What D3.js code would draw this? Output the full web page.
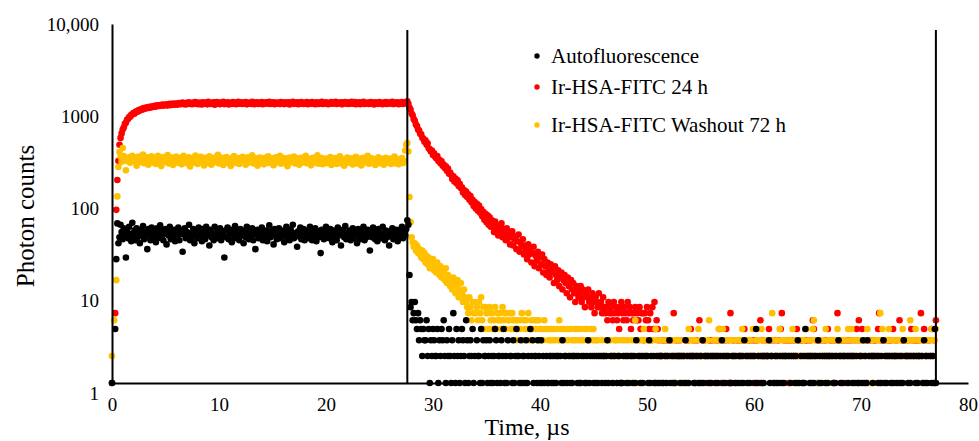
<!DOCTYPE html>
<html>
<head>
<meta charset="utf-8">
<script src="https://d3js.org/d3.v7.min.js"></script>
<style>
    body { margin: 0; background: #fff; }
    text { font-family: 'Liberation Serif', 'Times New Roman', serif; fill: #000; }
</style>
</head>
<body>
<div id="chart"></div>
<script>
// photon counts per time bin, bin width in µs
const binWidth = 0.1;

// bins 0..276 : excitation on (0 - 27.6 µs)
const redOn = [
    1, 0, 0, 6, 85, 183, 300, 452, 538, 604, 668, 702, 771, 795, 858, 872, 918, 925, 972, 981,
    1016, 1003, 1048, 1062, 1051, 1097, 1085, 1118, 1106, 1148, 1131, 1162, 1150, 1178, 1159, 1193, 1171, 1204, 1188, 1215,
    1197, 1232, 1211, 1246, 1220, 1238, 1259, 1226, 1265, 1241, 1252, 1277, 1233, 1262, 1289, 1248, 1271, 1296, 1258, 1283,
    1301, 1262, 1289, 1315, 1274, 1298, 1330, 1281, 1307, 1268, 1322, 1293, 1340, 1285, 1311, 1276, 1329, 1300, 1352, 1288,
    1318, 1279, 1336, 1303, 1267, 1345, 1310, 1292, 1331, 1272, 1358, 1305, 1284, 1327, 1296, 1341, 1263, 1314, 1348, 1290,
    1322, 1276, 1337, 1308, 1355, 1281, 1319, 1299, 1343, 1270, 1326, 1309, 1287, 1351, 1302, 1334, 1279, 1317, 1360, 1294,
    1311, 1339, 1283, 1325, 1306, 1347, 1272, 1318, 1296, 1335, 1289, 1356, 1301, 1277, 1329, 1314, 1342, 1286, 1320, 1298,
    1349, 1275, 1323, 1307, 1338, 1291, 1316, 1362, 1284, 1330, 1303, 1345, 1278, 1321, 1299, 1336, 1312, 1288, 1353, 1306,
    1327, 1281, 1344, 1315, 1293, 1339, 1270, 1324, 1308, 1357, 1289, 1318, 1301, 1341, 1276, 1332, 1295, 1350, 1310, 1284,
    1326, 1305, 1346, 1279, 1319, 1337, 1292, 1354, 1300, 1313, 1274, 1343, 1317, 1288, 1333, 1306, 1359, 1283, 1321, 1297,
    1340, 1311, 1278, 1328, 1302, 1348, 1290, 1323, 1314, 1356, 1282, 1335, 1299, 1318, 1344, 1273, 1329, 1308, 1351, 1294,
    1320, 1286, 1338, 1304, 1361, 1291, 1316, 1347, 1280, 1325, 1303, 1342, 1277, 1330, 1310, 1355, 1287, 1319, 1301, 1336,
    1284, 1327, 1349, 1296, 1313, 1270, 1340, 1307, 1322, 1289, 1353, 1300, 1318, 1275, 1334, 1312, 1346, 1285, 1324, 1305,
    1339, 1292, 1357, 1281, 1316, 1331, 1298, 1344, 1279, 1322, 1309, 1350, 1288, 1326, 1341, 1303, 1372
];
const orangeOn = [
    2, 0, 5, 0, 14, 120, 255, 375, 332, 291, 415, 338, 302, 235, 318, 296, 327, 284, 309, 341,
    312, 298, 325, 263, 306, 334, 289, 317, 301, 352, 281, 310, 295, 328, 270, 314, 303, 336, 287, 299,
    321, 276, 308, 340, 292, 315, 261, 304, 329, 288, 311, 297, 346, 279, 318, 300, 325, 268, 307, 293,
    333, 284, 312, 296, 322, 273, 305, 339, 290, 316, 281, 301, 327, 258, 309, 294, 320, 286, 343, 302,
    275, 314, 299, 331, 287, 308, 265, 323, 295, 310, 282, 336, 300, 271, 317, 293, 326, 289, 305, 348,
    279, 311, 296, 324, 268, 307, 291, 330, 285, 313, 298, 262, 319, 302, 337, 283, 309, 294, 321, 276,
    306, 289, 332, 298, 315, 270, 303, 327, 286, 311, 295, 344, 280, 308, 292, 319, 264, 301, 325, 288,
    314, 297, 273, 322, 305, 290, 335, 283, 309, 299, 318, 267, 304, 328, 287, 312, 294, 341, 278, 306,
    291, 320, 284, 310, 260, 303, 326, 289, 315, 296, 333, 279, 307, 292, 318, 271, 300, 324, 286, 312,
    295, 339, 281, 306, 290, 316, 266, 302, 323, 285, 309, 293, 345, 277, 311, 297, 320, 274, 304, 288,
    317, 282, 308, 294, 330, 269, 299, 313, 287, 321, 276, 305, 291, 336, 280, 310, 296, 263, 314, 300,
    325, 284, 307, 289, 318, 272, 303, 292, 331, 279, 309, 295, 316, 265, 301, 322, 286, 311, 297, 340,
    278, 306, 290, 319, 283, 302, 268, 313, 294, 327, 281, 304, 288, 315, 270, 299, 324, 285, 308, 291,
    317, 276, 302, 289, 334, 280, 296, 311, 273, 305, 287, 320, 282, 298, 390, 455, 472
];
const blackOn = [
    1, 0, 0, 4, 24, 60, 36, 42, 58, 48, 40, 53, 44, 25, 49, 41, 55, 46, 38, 61,
    44, 50, 39, 53, 42, 47, 36, 51, 44, 56, 40, 48, 43, 31, 52, 46, 39, 54, 42, 49,
    45, 37, 53, 41, 47, 57, 43, 50, 39, 46, 52, 35, 49, 44, 55, 40, 47, 42, 51, 38,
    48, 43, 54, 39, 46, 50, 29, 45, 53, 41, 48, 44, 58, 39, 47, 42, 52, 36, 50, 45,
    41, 54, 43, 49, 38, 52, 46, 40, 55, 44, 48, 34, 51, 42, 47, 39, 55, 45, 41, 50,
    43, 53, 39, 47, 44, 25, 50, 42, 54, 40, 46, 51, 37, 48, 43, 56, 41, 49, 45, 39,
    52, 44, 47, 36, 50, 42, 55, 46, 40, 48, 43, 53, 39, 49, 31, 45, 51, 41, 47, 44,
    54, 39, 48, 43, 50, 38, 46, 57, 42, 49, 44, 35, 52, 45, 40, 47, 53, 41, 48, 43,
    50, 37, 45, 55, 42, 48, 39, 51, 44, 58, 41, 47, 43, 33, 49, 45, 54, 40, 46, 52,
    39, 47, 44, 50, 41, 55, 45, 39, 48, 43, 53, 38, 49, 42, 46, 28, 51, 44, 40, 47,
    55, 42, 48, 41, 52, 45, 37, 50, 43, 47, 39, 54, 44, 49, 34, 46, 51, 42, 56, 40,
    47, 43, 50, 39, 45, 53, 41, 48, 44, 36, 52, 46, 40, 49, 43, 55, 39, 47, 42, 51,
    44, 30, 48, 42, 54, 45, 40, 49, 38, 52, 43, 47, 41, 55, 44, 39, 50, 42, 46, 34,
    49, 43, 53, 40, 47, 44, 51, 38, 45, 50, 42, 55, 41, 48, 44, 52, 65
];

// decay after the gate closes (from 27.7 µs)
const redDecay = [
    1290, 1176, 1112, 1008, 962, 871, 834, 761, 728, 669,
    651, 598, 589, 541, 527, 489, 506, 451, 468, 412,
    402, 379, 390, 348, 362, 331, 319, 337, 298, 306,
    281, 296, 263, 272, 248, 259, 232, 245, 214, 221,
    209, 188, 201, 176, 190, 168, 181, 157, 166, 149,
    152, 133, 141, 124, 136, 118, 127, 110, 121, 103,
    110, 94, 104, 88, 99, 83, 95, 79, 87, 72,
    81, 66, 77, 62, 74, 58, 70, 55, 65, 61,
    48, 63, 51, 57, 44, 55, 49, 60, 42, 52,
    45, 39, 53, 41, 47, 35, 44, 49, 34, 40,
    43, 31, 38, 45, 29, 36, 33, 40, 27, 34,
    30, 24, 35, 27, 31, 22, 28, 33, 20, 26,
    23, 29, 19, 25, 21, 27, 17, 24, 20, 16,
    22, 18, 15, 21, 17, 19, 13, 20, 16, 14,
    18, 12, 15, 17, 11, 14, 16, 13, 10, 15,
    12, 9, 14, 11, 13, 10, 8, 12, 11, 9,
    10, 12, 8, 11, 9, 7, 10, 9, 11, 8,
    9, 7, 10, 8, 6, 9, 8, 7, 10, 7,
    8, 6, 9, 7
];
const orangeDecay = [
    380, 118, 62, 42, 37, 33, 36, 30, 34, 28,
    31, 27, 25, 30, 24, 28, 22, 26, 21, 25,
    19, 23, 20, 24, 18, 21, 17, 22, 19, 16,
    20, 15, 18, 17, 14, 19, 13, 16, 15, 12,
    14, 11, 15, 13, 10, 12, 14, 9, 11, 13,
    10, 8, 11, 9
];
const blackDecay = [58, 16, 7, 8, 5, 6];

// low counts (one digit per bin, 0 = no photon, not drawn on log axis)
const redLow =
    "6758676586" + "7564786576" + "5867465675" + "6574663657" + "5463748454" +
    "3223132323" + "2332613232" + "3212232332" + "4232323152" + "2333212332" +
    "3232323413" + "2334231623" + "3213323232" + "4232332313" + "2332152322" +
    "3224323132" + "2332462323" + "3133232324" + "2323312332" + "3232542313" +
    "2332323242" + "3323132632" + "2332313232" + "3223243523" + "4232312332" +
    "2333246313" + "3232323324" + "2323152332" + "3232324323" + "3232362342" +
    "2333242315";
const orangeLow =
    "8769758686" + "7586957476" + "6475645746" + "5654756465" + "5646545354" +
    "4563545463" + "4543545354" + "3435424343" + "4343243534" + "3432434243" +
    "2343423432" + "3424332434" + "3233212322" + "2312332123" + "3223213232" +
    "2322132352" + "1332324323" + "2323312432" + "3231234213" + "2332323132" +
    "3212232343" + "2332312432" + "3223323512" + "2331324323" + "4232132323" +
    "2332312343" + "3213323242" + "2332314232" + "3233226312" + "2324232332" +
    "3231342323" + "2332313242" + "3223452313" + "2332324232" + "3231323423" +
    "2323232413" + "4232313233" + "2333242312" + "3213323624" + "2332342313" +
    "3233213242" + "2323352323" + "4232312332" + "2333243234";
const blackLow =
    "8546354243" + "3524132432" + "2413243521" + "3242136214" + "2312432153" +
    "1232412032" + "2141322312" + "3121243122" + "1324121302" + "2131242213" +
    "1221312042" + "3122132131" + "2102112212" + "1212202131" + "2210212122" +
    "0212112021" + "1231202121" + "2120212212" + "3102212201" + "2211120212" +
    "1022121302" + "2121202213" + "1202112121" + "2210212031" + "2121202212" +
    "0213121202" + "2112021213" + "1220212120" + "2121202312" + "1202111221" +
    "2012212130" + "2121202214" + "1202121202" + "2312201212" + "1021212202" +
    "2120212131" + "0212142021" + "2121202312" + "1202121220" + "2121203212" +
    "1220212021" + "2102112213" + "1213020212" + "2021212031" + "2120212122" +
    "1202121302" + "2121202212" + "1220213121" + "20212141";

// gate lines (µs) and axis ticks
const gateTimes = [27.6, 77];
const xTicks = [0, 10, 20, 30, 40, 50, 60, 70, 80];
const yTicks = [1, 10, 100, 1000, 10000];

const seriesNames = ['Autofluorescence', 'Ir-HSA-FITC 24 h', 'Ir-HSA-FITC Washout 72 h'];
const seriesColors = ['#000000', '#ff0000', '#ffc000'];

// turn the counts into {t, c} points
function toPoints(on, decay, low) {
    let counts = on.concat(decay, low.split('').map(Number));
    return counts.map((c, i) => ({ t: i * binWidth, c: c }))
        .filter(d => d.c > 0);
}

let series = [
    toPoints(blackOn, blackDecay, blackLow),
    toPoints(redOn, redDecay, redLow),
    toPoints(orangeOn, orangeDecay, orangeLow)
];

let dim = { width: 979, height: 441 };

let svg = d3.select('#chart')
    .append('svg')
    .attr('width', dim.width)
    .attr('height', dim.height);

let scaleX = d3.scaleLinear().domain([0, 80]).range([112, 968]);
let scaleY = d3.scaleLog().domain([1, 10000]).range([383, 24]);

// dots: red at the back, yellow over it, black on top
let drawOrder = [1, 2, 0];
drawOrder.forEach(k => {
    svg.append('g')
        .selectAll('circle')
        .data(series[k])
        .join('circle')
        .attr('cx', d => scaleX(d.t))
        .attr('cy', d => scaleY(d.c))
        .attr('r', 3.3)
        .attr('fill', seriesColors[k]);
});

// vertical gate lines
svg.append('g')
    .selectAll('line')
    .data(gateTimes)
    .join('line')
    .attr('x1', d => scaleX(d))
    .attr('x2', d => scaleX(d))
    .attr('y1', scaleY(1))
    .attr('y2', scaleY.range()[1] + 6)
    .attr('stroke', '#000')
    .attr('stroke-width', 2);

// x axis
let axisX = svg.append('g')
    .attr('transform', `translate(0, ${scaleY(1)})`)
    .call(d3.axisBottom(scaleX)
        .tickValues(xTicks)
        .tickSize(0)
        .tickSizeOuter(0)
        .tickPadding(15));

// y axis
let axisY = svg.append('g')
    .attr('transform', `translate(${scaleX(0)}, 0)`)
    .call(d3.axisLeft(scaleY)
        .tickValues(yTicks)
        .tickFormat(d => d === 10000 ? '10,000' : String(d))
        .tickSize(0)
        .tickSizeOuter(0)
        .tickPadding(13));

// labels sit slightly lower toward the bottom in the original
axisY.selectAll('.tick text')
    .attr('transform', d => `translate(0, ${(4 - Math.log10(d)) * 2.5})`);

[axisX, axisY].forEach(axis => {
    axis.select('.domain')
        .attr('stroke', '#000')
        .attr('stroke-width', 2);
    axis.selectAll('text')
        .attr('font-size', '19px')
        .attr('font-family', "'Liberation Serif', 'Times New Roman', serif")
        .attr('fill', '#000');
});

// axis titles
svg.append('text')
    .attr('x', 527)
    .attr('y', 427)
    .attr('text-anchor', 'middle')
    .attr('dominant-baseline', 'central')
    .attr('font-size', '24px')
    .text('Time, µs');

svg.append('text')
    .attr('transform', 'translate(25, 216) rotate(-90)')
    .attr('text-anchor', 'middle')
    .attr('dominant-baseline', 'central')
    .attr('font-size', '25px')
    .text('Photon counts');

// legend
let legendY = [56, 87, 125];
let legend = svg.append('g')
    .selectAll('g')
    .data(seriesNames)
    .join('g')
    .attr('transform', (d, i) => `translate(537, ${legendY[i]})`);

legend.append('circle')
    .attr('r', 2.7)
    .attr('fill', (d, i) => seriesColors[i]);

legend.append('text')
    .attr('x', 14)
    .attr('dominant-baseline', 'central')
    .attr('font-size', '21px')
    .text(d => d);
</script>
</body>
</html>
